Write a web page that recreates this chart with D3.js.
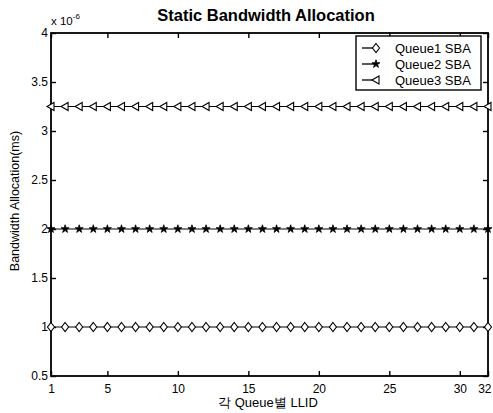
<!DOCTYPE html>
<html><head><meta charset="utf-8">
<script src="https://cdn.jsdelivr.net/npm/d3@7"></script>
<style>body{margin:0;background:#fff}svg{display:block}text{font-family:"Liberation Sans",Arial,sans-serif;fill:#000}</style>
</head><body><svg id="c" width="493" height="413"></svg>
<script>
const llid = d3.range(1, 33);
const queue1 = llid.map(() => 1);
const queue2 = llid.map(() => 2);
const queue3 = llid.map(() => 3.25);
const seriesNames = ["Queue1 SBA", "Queue2 SBA", "Queue3 SBA"];
const xTicks = [1, 5, 10, 15, 20, 25, 30, 32];
const yTicks = [0.5, 1, 1.5, 2, 2.5, 3, 3.5, 4];

const svg = d3.select("#c");
const m = {l: 51, r: 488, t: 33, b: 376};
const x = d3.scaleLinear().domain([1, 32]).range([m.l, m.r]);
const y = d3.scaleLinear().domain([0.5, 4]).range([m.b, m.t]);

svg.append("rect").attr("x", m.l).attr("y", m.t).attr("width", m.r - m.l).attr("height", m.b - m.t)
  .attr("fill", "none").attr("stroke", "#000").attr("stroke-width", 1.8);

const ax = g => g.call(s => s.select(".domain").remove())
  .call(s => s.selectAll("line").attr("stroke", "#000").attr("stroke-width", 1.4))
  .call(s => s.selectAll("text").attr("font-size", 12).attr("font-family", "Liberation Sans, Arial, sans-serif"));

const bx = svg.append("g").attr("transform", `translate(0,${m.b})`)
  .call(d3.axisBottom(x).tickValues(xTicks).tickSize(-5).tickPadding(8).tickFormat(d3.format("d"))).call(ax);
bx.selectAll(".tick text").filter(d => d === 32).attr("text-anchor", "end").attr("dx", 3);
svg.append("g").attr("transform", `translate(0,${m.t})`)
  .call(d3.axisTop(x).tickValues(xTicks).tickSize(-5).tickFormat("")).call(ax);
svg.append("g").attr("transform", `translate(${m.l},0)`)
  .call(d3.axisLeft(y).tickValues(yTicks).tickSize(-5).tickPadding(3).tickFormat(d => d)).call(ax);
svg.append("g").attr("transform", `translate(${m.r},0)`)
  .call(d3.axisRight(y).tickValues(yTicks).tickSize(-5).tickFormat("")).call(ax);

const line = d3.line().x((d, i) => x(llid[i])).y(d => y(d));
const data = [queue1, queue2, queue3];

function marker(g, type, cx, cy) {
  if (type === 0) {
    g.append("path").attr("d", `M${cx},${cy-4.5}L${cx+3.5},${cy}L${cx},${cy+4.5}L${cx-3.5},${cy}Z`)
      .attr("fill", "#fff").attr("stroke", "#000").attr("stroke-width", 1.1);
  } else if (type === 1) {
    g.append("path").attr("d", d3.symbol(d3.symbolStar, 20)()).attr("transform", `translate(${cx},${cy})`)
      .attr("fill", "#000").attr("stroke", "#000").attr("stroke-width", 0.8);
  } else {
    g.append("path").attr("d", `M${cx-4},${cy}L${cx+3},${cy-4}L${cx+3},${cy+4}Z`)
      .attr("fill", "#fff").attr("stroke", "#000").attr("stroke-width", 1.1);
  }
}

data.forEach((vals, k) => {
  svg.append("path").datum(vals).attr("d", line).attr("fill", "none").attr("stroke", "#000").attr("stroke-width", 1.1);
  const g = svg.append("g");
  vals.forEach((v, i) => marker(g, k, x(llid[i]), y(v)));
});

const lg = svg.append("g");
lg.append("rect").attr("x", 356).attr("y", 36).attr("width", 125).attr("height", 54)
  .attr("fill", "#fff").attr("stroke", "#000").attr("stroke-width", 1.4);
seriesNames.forEach((n, k) => {
  const ly = 48 + k * 16;
  lg.append("line").attr("x1", 362).attr("x2", 376).attr("y1", ly).attr("y2", ly).attr("stroke", "#000").attr("stroke-width", 1.3);
  marker(lg, k, 376, ly);
  lg.append("text").attr("x", 395).attr("y", ly + 4.5).attr("font-size", 13).text(n);
});

svg.append("text").attr("x", 266).attr("y", 21).attr("text-anchor", "middle").attr("font-size", 16.5).attr("font-weight", "bold").text("Static Bandwidth Allocation");
const e = svg.append("text").attr("x", 51).attr("y", 25).attr("font-size", 11.5);
e.append("tspan").text("x 10");
e.append("tspan").attr("dy", -6).attr("font-size", 8).text("-6");
svg.append("text").attr("transform", "translate(19,201) rotate(-90)").attr("text-anchor", "middle").attr("font-size", 12.5).text("Bandwidth Allocation(ms)");
svg.append("text").attr("x", 268).attr("y", 407).attr("text-anchor", "middle").attr("font-size", 13).text("각 Queue별 LLID");
</script></body></html>
